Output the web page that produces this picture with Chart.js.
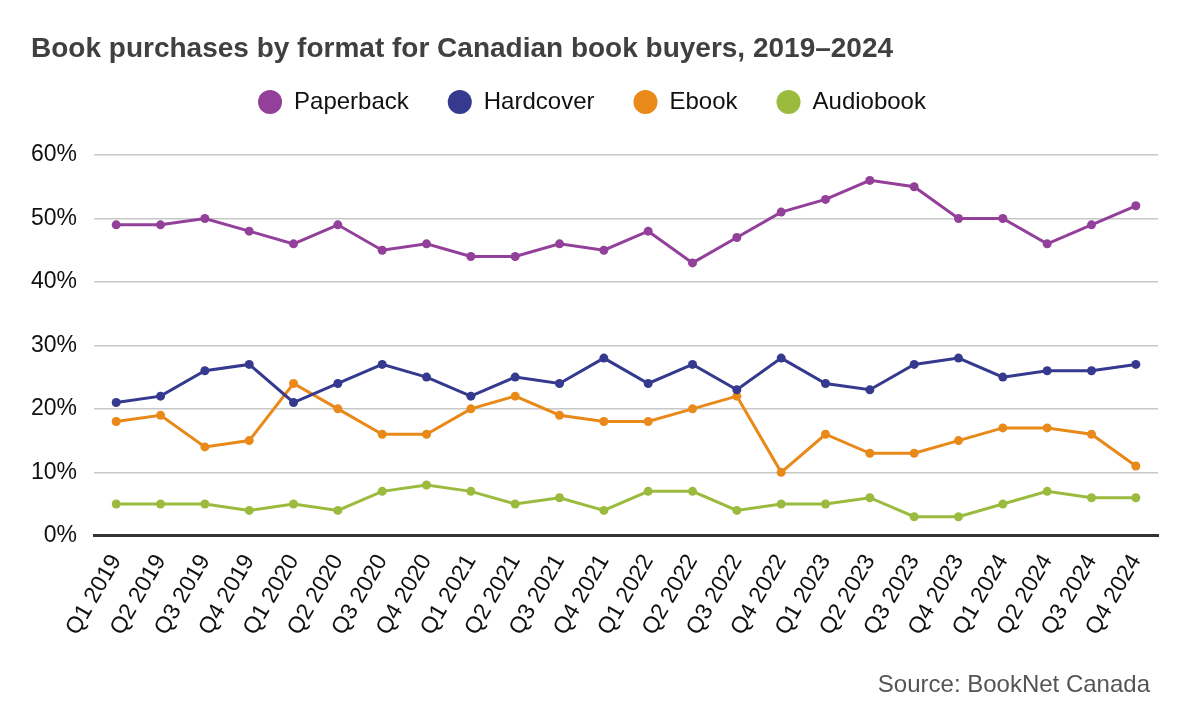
<!DOCTYPE html>
<html><head><meta charset="utf-8">
<script src="https://cdn.jsdelivr.net/npm/chart.js@4"></script>
<style>html,body{margin:0;padding:0;background:#fff}#wrap{width:1192px;height:727px}</style>
</head><body><div id="wrap"><canvas id="c"></canvas></div>
<script>
const categories = ["Q1 2019","Q2 2019","Q3 2019","Q4 2019","Q1 2020","Q2 2020","Q3 2020","Q4 2020","Q1 2021","Q2 2021","Q3 2021","Q4 2021","Q1 2022","Q2 2022","Q3 2022","Q4 2022","Q1 2023","Q2 2023","Q3 2023","Q4 2023","Q1 2024","Q2 2024","Q3 2024","Q4 2024"];
const paperback = [49,49,50,48,46,49,45,46,44,44,46,45,48,43,47,51,53,56,55,50,50,46,49,52];
const hardcover = [21,22,26,27,21,24,27,25,22,25,24,28,24,27,23,28,24,23,27,28,25,26,26,27];
const ebook = [18,19,14,15,24,20,16,16,20,22,19,18,18,20,22,10,16,13,13,15,17,17,16,11];
const audiobook = [5,5,5,4,5,4,7,8,7,5,6,4,7,7,4,5,5,6,3,3,5,7,6,6];
const seriesNames = ["Paperback","Hardcover","Ebook","Audiobook"];
const yTicks = [0,10,20,30,40,50,60];
const titleText = "Book purchases by format for Canadian book buyers, 2019\u20132024";
const sourceText = "Source: BookNet Canada";
const colors = ["#93409a","#353a8f","#e8891a","#9bbb3f"];
const FONT = "'Liberation Sans', Arial, sans-serif";

const mk = (label, data, color) => ({label, data, borderColor: color, backgroundColor: color,
  borderWidth: 3, pointRadius: 4.5, pointHoverRadius: 4.5, pointBackgroundColor: color, pointBorderWidth: 0, tension: 0});

const tweak = {
  id: 'tweak',
  beforeInit(chart) {
    const lg = chart.legend;
    if (lg) {
      const fit = lg.fit;
      lg.fit = function () { fit.call(this); this.height += 31; };
    }
  },
  afterLayout(chart) {
    chart.boxes.forEach(b => {
      if (b.options && b.options.text === titleText) { b.left = 31; }
      if (b.options && b.options.text === sourceText) { b.right = 1150; }
    });
    if (chart.legend) { chart.legend.left += 6; chart.legend.right += 6; }
  }
};

new Chart(document.getElementById('c'), {
  type: 'line',
  data: {labels: categories, datasets: [
    mk(seriesNames[0], paperback, colors[0]),
    mk(seriesNames[1], hardcover, colors[1]),
    mk(seriesNames[2], ebook, colors[2]),
    mk(seriesNames[3], audiobook, colors[3])
  ]},
  plugins: [tweak],
  options: {
    responsive: true, maintainAspectRatio: false, animation: false,
    layout: {padding: {left: 14, right: 34, top: 12, bottom: 20}},
    plugins: {
      title: {display: true, text: titleText, align: 'start',
        color: '#404040', font: {family: FONT, size: 28, weight: 'bold'}, padding: {top: 20, bottom: -14.6}},
      legend: {display: true, labels: {usePointStyle: true, pointStyle: 'circle', boxHeight: 17, boxWidth: 24,
        color: '#111', font: {family: FONT, size: 24}, padding: 39}},
      subtitle: {display: true, position: 'bottom', align: 'end', text: sourceText,
        color: '#555', font: {family: FONT, size: 24}, padding: {top: 16.6, bottom: 7.6}},
      tooltip: {enabled: false}
    },
    scales: {
      x: {offset: true, grid: {display: false, drawTicks: false},
        border: {display: true, color: '#333', width: 3},
        ticks: {color: '#111', font: {family: FONT, size: 23}, minRotation: 60, maxRotation: 60, autoSkip: false, padding: 14}},
      y: {min: yTicks[0], max: yTicks[yTicks.length - 1], grid: {color: '#c8c8c8', lineWidth: 1.5, drawTicks: false},
        border: {display: false},
        afterBuildTicks: s => { s.ticks = yTicks.map(v => ({value: v})); },
        ticks: {color: '#111', font: {family: FONT, size: 23}, padding: 17, callback: v => v + '%'}}
    }
  }
});
</script></body></html>
